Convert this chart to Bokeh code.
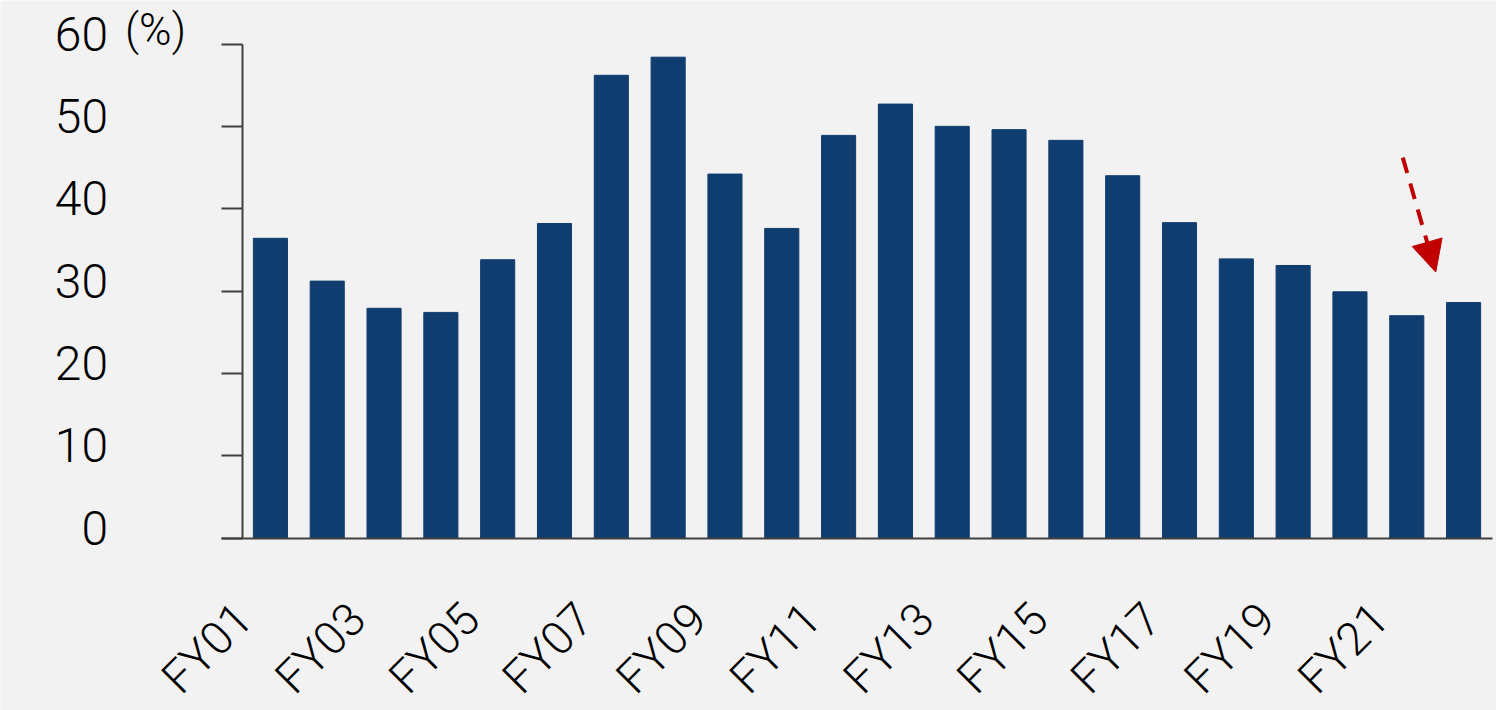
from bokeh.plotting import figure
from bokeh.models import Range1d, FixedTicker, Arrow, NormalHead, LinearAxis
from bokeh.embed import file_html
from bokeh.resources import INLINE

# Fiscal years and the ratio (%) for each
years = ["FY01", "FY02", "FY03", "FY04", "FY05", "FY06", "FY07", "FY08",
         "FY09", "FY10", "FY11", "FY12", "FY13", "FY14", "FY15", "FY16",
         "FY17", "FY18", "FY19", "FY20", "FY21", "FY22"]
ratio = [36.4, 31.2, 27.9, 27.4, 33.8, 38.2, 56.2, 58.4, 44.2, 37.6, 48.9,
         52.7, 50.0, 49.6, 48.3, 44.0, 38.3, 33.9, 33.1, 29.9, 27.0, 28.6]
y_ticks = [0, 10, 20, 30, 40, 50, 60]
unit_text = "(%)"

# Dashed pointer towards the latest years (x in year index, y in %)
arrow_start = (19.93, 46.2)
arrow_end = (20.51, 32.3)

BG = "#F2F2F2"
BAR = "#103D6F"
AXIS = "#404040"
RED = "#C00000"
FONT = "Roboto Light"

# page geometry (pixels)
W, H = 1496, 710
AXIS_X = 241.5        # value axis line
PLOT_RIGHT = 1491.5   # right end of the baseline
TOP_Y = 43.5          # position of the top tick
BASE_Y = 537.5        # position of the baseline
TICK_LEN = 21

N = len(years)
xs = list(range(N))
cat_px = (PLOT_RIGHT - AXIS_X) / N
unit_px = (BASE_Y - TOP_Y) / (y_ticks[-1] - y_ticks[0])

x_left = -0.5
x_range = Range1d(x_left - AXIS_X / cat_px, N - 0.5 + (W - PLOT_RIGHT) / cat_px)
y_range = Range1d(-(H - BASE_Y) / unit_px, y_ticks[-1] + TOP_Y / unit_px)

p = figure(width=W, height=H, output_backend="svg", toolbar_location=None,
           x_range=x_range, y_range=y_range,
           min_border_left=0, min_border_right=0, min_border_top=0,
           min_border_bottom=0)
p.background_fill_color = BG
p.border_fill_color = BG
p.outline_line_color = None
p.grid.visible = False

p.vbar(x=xs, top=ratio, width=0.6, color=BAR)

# value axis: line and outward ticks
ya = p.yaxis[0]
ya.fixed_location = x_left
ya.bounds = (y_ticks[0], y_ticks[-1])
ya.ticker = FixedTicker(ticks=y_ticks)
ya.axis_line_color = AXIS
ya.axis_line_width = 2
ya.major_tick_line_color = AXIS
ya.major_tick_line_width = 2
ya.major_tick_out = TICK_LEN
ya.major_tick_in = 0
ya.minor_tick_line_color = None
ya.major_label_text_color = None

# tick numbers, set slightly above their ticks
raise_by = 10.5 / unit_px
num_pos = [t + raise_by for t in y_ticks]
yn = LinearAxis(ticker=FixedTicker(ticks=num_pos), fixed_location=x_left,
                major_label_overrides={pos: str(t) for pos, t in zip(num_pos, y_ticks)})
yn.axis_line_color = None
yn.major_tick_line_color = None
yn.major_tick_out = 0
yn.major_tick_in = 0
yn.minor_tick_line_color = None
yn.major_label_text_font = FONT
yn.major_label_text_font_size = "48px"
yn.major_label_text_color = "#000000"
yn.major_label_standoff = 134
p.add_layout(yn, "left")

# unit next to the top number
unit_pos = y_ticks[-1] + 14 / unit_px
yu = LinearAxis(ticker=FixedTicker(ticks=[unit_pos]), fixed_location=x_left,
                major_label_overrides={unit_pos: unit_text})
yu.axis_line_color = None
yu.major_tick_line_color = None
yu.major_tick_out = 0
yu.major_tick_in = 0
yu.minor_tick_line_color = None
yu.major_label_text_font = FONT
yu.major_label_text_font_size = "44px"
yu.major_label_text_color = "#000000"
yu.major_label_standoff = 56
p.add_layout(yu, "left")

# category axis along y = 0; every other fiscal year is labelled,
# the slanted labels ending a little left of their bar
label_shift = -0.47
xa = p.xaxis[0]
xa.fixed_location = 0
xa.bounds = (x_left - TICK_LEN / cat_px, N - 0.5)
label_pos = [i + label_shift for i in xs[::2]]
xa.ticker = FixedTicker(ticks=label_pos)
xa.major_label_overrides = {pos: years[i] for pos, i in zip(label_pos, xs[::2])}
xa.axis_line_color = AXIS
xa.axis_line_width = 2
xa.major_tick_line_color = None
xa.major_tick_out = 0
xa.major_tick_in = 0
xa.minor_tick_line_color = None
xa.major_label_orientation = 0.785398
xa.major_label_text_font = FONT
xa.major_label_text_font_size = "46px"
xa.major_label_text_color = "#000000"
xa.major_label_standoff = 73

p.add_layout(Arrow(end=NormalHead(size=31, fill_color=RED, line_color=RED,
                                  line_width=1),
                   x_start=arrow_start[0], y_start=arrow_start[1],
                   x_end=arrow_end[0], y_end=arrow_end[1],
                   line_color=RED, line_width=4, line_dash="16 11"))

open("out.html", "w").write(file_html(p, INLINE))
